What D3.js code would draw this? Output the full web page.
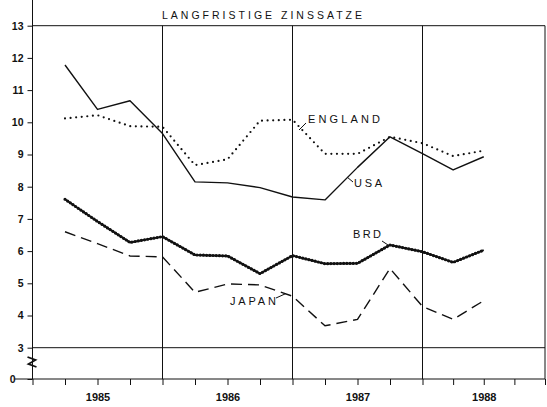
<!DOCTYPE html>
<html>
<head>
<meta charset="utf-8">
<script src="https://cdn.jsdelivr.net/npm/d3@7"></script>
<style>
  body { margin: 0; background: #fff; }
  svg { display: block; }
  text { font-family: "Liberation Sans", Arial, sans-serif; fill: #111; }
</style>
</head>
<body>
<svg id="chart" width="547" height="407"></svg>
<script>
// quarters counted from start of 1985 (q=1 -> end of Q1 1985)
const quarters = [1, 2, 3, 4, 5, 6, 7, 8, 9, 10, 11, 12, 13, 14];
const usa     = [11.78, 10.40, 10.67, 9.65, 8.15, 8.12, 7.97, 7.68, 7.59, 8.60, 9.55, 9.03, 8.52, 8.93];
const england = [10.12, 10.22, 9.88, 9.86, 8.67, 8.85, 10.05, 10.08, 9.02, 9.02, 9.55, 9.35, 8.95, 9.12];
const brd     = [7.61, 6.92, 6.27, 6.45, 5.88, 5.85, 5.30, 5.86, 5.61, 5.62, 6.19, 5.98, 5.65, 6.03];
const japan   = [6.60, 6.23, 5.85, 5.82, 4.72, 4.98, 4.95, 4.60, 3.68, 3.88, 5.46, 4.28, 3.88, 4.46];

const yTicks = [0, 3, 4, 5, 6, 7, 8, 9, 10, 11, 12, 13];
const years = ["1985", "1986", "1987", "1988"];
const yearTicks = [2, 6, 10, 14];
const yearLines = [4, 8, 12];
const title = "LANGFRISTIGE ZINSSATZE";

const svg = d3.select("#chart");
const ink = "#111";

// last year is a bit squeezed in the original, and the y axis has a break below 3
const x = d3.scaleLinear().domain([0, 12, 16]).range([32.5, 422.5, 545]);
const y = d3.scaleLinear().domain([0, 3, 13]).range([379, 347.7, 25.7]);

const frame = svg.append("g").attr("stroke", ink).attr("stroke-width", 1).attr("fill", "none");

// y axis line goes up past 13 to the top of the page
frame.append("line").attr("x1", x(0)).attr("x2", x(0)).attr("y1", 0).attr("y2", y(0));
frame.append("line").attr("x1", x(0)).attr("x2", x(16)).attr("y1", y(13)).attr("y2", y(13));
frame.append("line").attr("x1", x(0)).attr("x2", x(16)).attr("y1", y(3)).attr("y2", y(3));
frame.append("line").attr("x1", 15).attr("x2", x(16)).attr("y1", y(0)).attr("y2", y(0));
frame.append("line").attr("x1", x(16)).attr("x2", x(16)).attr("y1", y(13)).attr("y2", y(0));
frame.selectAll("line.year")
  .data(yearLines)
  .join("line")
  .attr("class", "year")
  .attr("x1", d => x(d)).attr("x2", d => x(d))
  .attr("y1", y(13)).attr("y2", y(0));

// axis break mark
frame.append("path")
  .attr("d", `M${x(0)-5},${y(0)-22} L${x(0)+3},${y(0)-19} L${x(0)-4},${y(0)-15} L${x(0)+4},${y(0)-12}`)
  .attr("stroke-width", 1.8);

// y axis ticks + labels
const yAxis = svg.append("g")
  .attr("transform", `translate(${x(0)},0)`)
  .call(d3.axisLeft(y).tickValues(yTicks).tickSize(5).tickSizeOuter(0).tickPadding(4));
yAxis.select(".domain").remove();
yAxis.selectAll("line").attr("stroke", ink);
yAxis.selectAll("text")
  .style("font-family", "'Liberation Sans', Arial, sans-serif")
  .style("font-weight", "bold")
  .style("font-size", "10.5px")
  .attr("fill", ink);
// the 0 sits further left, at the end of the base line
yAxis.selectAll(".tick").filter(d => d === 0).select("text").attr("x", -17);

// quarter ticks hanging under the base line
const xAxis = svg.append("g")
  .attr("transform", `translate(0,${y(0)})`)
  .call(d3.axisBottom(x).tickValues(d3.range(0, 17)).tickSize(6).tickSizeOuter(0).tickFormat(""));
xAxis.select(".domain").remove();
xAxis.selectAll("line").attr("stroke", ink);

const yearAxis = svg.append("g")
  .attr("transform", `translate(0,${y(0)})`)
  .call(d3.axisBottom(x).tickValues(yearTicks).tickSize(0).tickPadding(14)
    .tickFormat((d, i) => years[i]));
yearAxis.select(".domain").remove();
yearAxis.selectAll("text")
  .style("font-family", "'Liberation Sans', Arial, sans-serif")
  .style("font-weight", "bold")
  .style("font-size", "11px")
  .attr("fill", ink);

// title
svg.append("text")
  .attr("x", 162).attr("y", 18.5)
  .attr("textLength", 200).attr("lengthAdjust", "spacing")
  .style("font-size", "10.5px")
  .text(title);

const line = d3.line()
  .x((d, i) => x(quarters[i]))
  .y(d => y(d));

const lines = svg.append("g").attr("fill", "none").attr("stroke", ink);

lines.append("path").datum(usa)
  .attr("d", line).attr("stroke-width", 1.4).attr("stroke-linejoin", "round");

lines.append("path").datum(england)
  .attr("d", line).attr("stroke-width", 2.2)
  .attr("stroke-linecap", "round").attr("stroke-dasharray", "0 5.6");

lines.append("path").datum(brd)
  .attr("d", line).attr("stroke-width", 2).attr("stroke-linejoin", "round");
// beaded overlay gives the wavy look of the BRD line
lines.append("path").datum(brd)
  .attr("d", line).attr("stroke-width", 3.2)
  .attr("stroke-linecap", "round").attr("stroke-dasharray", "0 3.2");

lines.append("path").datum(japan)
  .attr("d", line).attr("stroke-width", 1.4).attr("stroke-dasharray", "11 6");

// series labels with small leader lines
const labels = [
  { text: "ENGLAND", x: 308, y: 122.7, w: 72, lead: [306, 123, 299, 130] },
  { text: "USA",     x: 354, y: 186.5, w: 28, lead: [353, 182, 347, 177] },
  { text: "BRD",     x: 353, y: 238.3, w: 28, lead: [382, 241, 388, 245] },
  { text: "JAPAN",   x: 230, y: 305,   w: 46, lead: [276, 298, 286, 293.5] }
];
const lab = svg.append("g");
lab.selectAll("text")
  .data(labels)
  .join("text")
  .attr("x", d => d.x).attr("y", d => d.y)
  .attr("textLength", d => d.w).attr("lengthAdjust", "spacing")
  .style("font-size", "11px")
  .text(d => d.text);
lab.selectAll("line")
  .data(labels)
  .join("line")
  .attr("x1", d => d.lead[0]).attr("y1", d => d.lead[1])
  .attr("x2", d => d.lead[2]).attr("y2", d => d.lead[3])
  .attr("stroke", ink).attr("stroke-width", 1);
</script>
</body>
</html>
